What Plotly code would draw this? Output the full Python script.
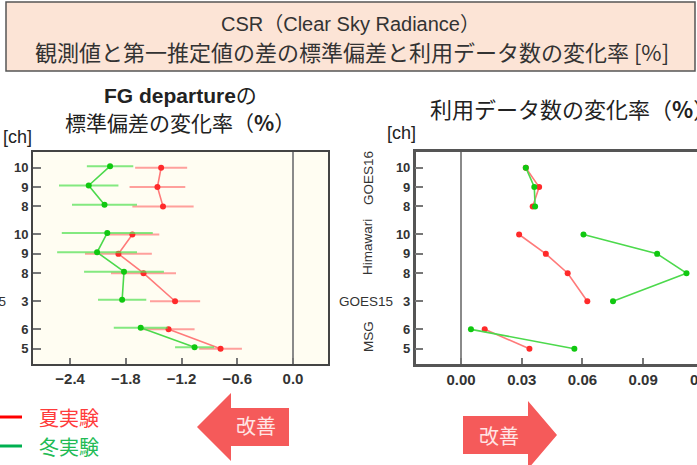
import plotly.graph_objects as go

W, H = 697, 465

# ---------------- data ----------------
satellite = ["GOES16", "GOES16", "GOES16", "Himawari", "Himawari", "Himawari", "GOES15", "MSG", "MSG"]
channel_labels = ["10", "9", "8", "10", "9", "8", "3", "6", "5"]
line_segment = {"GOES16": 0, "Himawari": 1, "GOES15": 1, "MSG": 2}

# FG departure standard deviation change rate (%)
fg_summer = [-1.42, -1.46, -1.40, -1.73, -1.88, -1.61, -1.27, -1.34, -0.78]
fg_summer_err = [0.28, 0.30, 0.33, 0.29, 0.36, 0.35, 0.27, 0.28, 0.23]
fg_winter = [-1.97, -2.20, -2.03, -2.00, -2.11, -1.82, -1.84, -1.64, -1.06]
fg_winter_err = [0.25, 0.32, 0.35, 0.49, 0.43, 0.43, 0.26, 0.29, 0.21]

# change rate of number of used data (%)
n_summer = [0.032, 0.0386, 0.0354, 0.0287, 0.0419, 0.0527, 0.0624, 0.0117, 0.0338]
n_winter = [0.032, 0.0362, 0.0366, 0.0605, 0.0969, 0.1114, 0.0751, 0.0049, 0.0560]

left_ticks = [-2.4, -1.8, -1.2, -0.6, 0.0]
right_ticks = [0.0, 0.03, 0.06, 0.09]

# ---------------- styling ----------------
RED_LINE, RED_MK, RED_ERR = "#FF7A7A", "#FF2A2A", "rgba(255,120,120,0.7)"
GRN_LINE, GRN_MK, GRN_ERR = "#4CD94C", "#10C810", "rgba(90,225,90,0.75)"
GROUP_GAP = 0.45
WINTER_DODGE = 0.08
LATIN = "Liberation Sans, Arial, Noto Sans CJK JP"
CJK = "Noto Sans CJK JP, Liberation Sans"


def px_x(p):
    return p / W


def px_y(p):
    return 1 - p / H


# row positions (groups separated by a gap)
pos = []
cur = 0.0
prev = None
for s in satellite:
    if prev is not None:
        cur -= 1.0 + (GROUP_GAP if s != prev else 0.0)
    pos.append(cur)
    prev = s
pos = [p - pos[-1] for p in pos]


def with_breaks(vals):
    out, prev = [], None
    for v, s in zip(vals, satellite):
        if prev is not None and line_segment[s] != line_segment[prev]:
            out.append(None)
        out.append(v)
        prev = s
    return out


pos_b = with_breaks(pos)
pos_w = [None if p is None else p + WINTER_DODGE for p in pos_b]

fig = go.Figure()

# left panel
fig.add_trace(go.Scatter(
    x=with_breaks(fg_summer), y=pos_b, mode="lines+markers", name="夏実験",
    line=dict(color=RED_LINE, width=1.6), marker=dict(color=RED_MK, size=6),
    error_x=dict(type="data", array=with_breaks(fg_summer_err), color=RED_ERR, thickness=2, width=0),
    xaxis="x", yaxis="y", showlegend=False))
fig.add_trace(go.Scatter(
    x=with_breaks(fg_winter), y=pos_w, mode="lines+markers", name="冬実験",
    line=dict(color=GRN_LINE, width=1.6), marker=dict(color=GRN_MK, size=6),
    error_x=dict(type="data", array=with_breaks(fg_winter_err), color=GRN_ERR, thickness=2, width=0),
    xaxis="x", yaxis="y", showlegend=False))

# right panel
fig.add_trace(go.Scatter(
    x=with_breaks(n_summer), y=pos_b, mode="lines+markers", name="夏実験",
    line=dict(color=RED_LINE, width=1.6), marker=dict(color=RED_MK, size=6),
    xaxis="x2", yaxis="y2", showlegend=False))
fig.add_trace(go.Scatter(
    x=with_breaks(n_winter), y=pos_b, mode="lines+markers", name="冬実験",
    line=dict(color=GRN_LINE, width=1.6), marker=dict(color=GRN_MK, size=6),
    xaxis="x2", yaxis="y2", showlegend=False))

ydom = [px_y(364), px_y(152)]
yrange = [-0.79, 10.16]
tickfont_x = dict(family=LATIN, size=15, color="#333", weight="bold")
tickfont_y = dict(family=LATIN, size=13, color="#333", weight="bold")

common_x = dict(ticks="inside", ticklen=6, tickwidth=1.5, tickcolor="#777",
                showline=True, showgrid=False,
                zeroline=True, zerolinecolor="#8a8a8a", zerolinewidth=1.5,
                tickfont=tickfont_x, fixedrange=True)
common_y = dict(ticks="inside", ticklen=8, tickwidth=1.5, tickcolor="#777",
                showline=True, showgrid=False, zeroline=False,
                tickvals=pos, ticktext=channel_labels, range=yrange,
                tickfont=tickfont_y, fixedrange=True)

fig.update_layout(
    width=W, height=H, margin=dict(l=0, r=0, t=0, b=0),
    paper_bgcolor="white", plot_bgcolor="white",
    xaxis=dict(domain=[px_x(33), px_x(328)], range=[-2.80, 0.377], anchor="y",
               tickvals=left_ticks, tickformat=".1f", mirror=True, linecolor="#444",
               linewidth=2, **common_x),
    yaxis=dict(domain=ydom, anchor="x", mirror=True, linecolor="#444", linewidth=2, **common_y),
    xaxis2=dict(domain=[px_x(415.7), 1.0], range=[-0.0224, 0.1166], anchor="y2",
                tickvals=right_ticks, tickformat=".2f", mirror=True, linecolor="#555",
                linewidth=2.5, **common_x),
    yaxis2=dict(domain=ydom, anchor="x2", mirror=False, linecolor="#555", linewidth=2.5, **common_y),
)

shapes = []
# left panel cream background
shapes.append(dict(type="rect", xref="x domain", yref="y domain", x0=0, x1=1, y0=0, y1=1,
                   fillcolor="#FFFDF2", line=dict(width=0), layer="below"))
# header box
shapes.append(dict(type="rect", xref="paper", yref="paper",
                   x0=px_x(6), x1=px_x(695), y0=px_y(71), y1=px_y(2),
                   fillcolor="#FCE4D6", line=dict(color="#555", width=1.5)))
# legend lines
shapes.append(dict(type="line", xref="paper", yref="paper", x0=0, x1=px_x(22),
                   y0=px_y(417), y1=px_y(417), line=dict(color="#FF0000", width=3)))
shapes.append(dict(type="line", xref="paper", yref="paper", x0=0, x1=px_x(22),
                   y0=px_y(446), y1=px_y(446), line=dict(color="#00B050", width=3)))


def arrow_path(tip, base, tail, cy, hh, bh):
    pts = [(tip, cy), (base, cy - hh), (base, cy - bh), (tail, cy - bh),
           (tail, cy + bh), (base, cy + bh), (base, cy + hh)]
    return "M " + " L ".join(f"{px_x(x):.5f},{px_y(y):.5f}" for x, y in pts) + " Z"


ARROW = "#F55A5A"
shapes.append(dict(type="path", xref="paper", yref="paper",
                   path=arrow_path(197, 231, 289, 427, 34, 19),
                   fillcolor=ARROW, line=dict(width=0)))
shapes.append(dict(type="path", xref="paper", yref="paper",
                   path=arrow_path(557, 528, 463, 435, 34, 19),
                   fillcolor=ARROW, line=dict(width=0)))
fig.update_layout(shapes=shapes)

ann = []


def text(t, x, y, size, color="#222", family=CJK, xanchor="center", angle=0):
    ann.append(dict(text=t, x=px_x(x), y=px_y(y), xref="paper", yref="paper",
                    showarrow=False, xanchor=xanchor, yanchor="middle", textangle=angle,
                    font=dict(family=family, size=size, color=color)))


# header
text("CSR（Clear Sky Radiance）", 351, 24, 20, "#333", LATIN)
text("観測値と第一推定値の差の標準偏差と利用データ数の変化率 [%]", 352, 51, 22, "#333")
# panel titles
text("<b>FG departure</b>の", 180, 96, 21, "#222", LATIN)
text("標準偏差の変化率（<b>%</b>）", 180, 122, 21, "#222")
text("利用データ数の変化率（<b>%</b>）", 428, 108, 22, "#222", CJK, "left")
text("[ch]", 1, 137, 18, "#222", LATIN, "left")
text("[ch]", 385, 133, 18, "#222", LATIN, "left")
# group labels
text("GOES15", 8, 301, 13.5, "#333", LATIN, "right")
text("GOES16", 368, 178, 13.5, "#333", LATIN, "center", -90)
text("Himawari", 368, 247, 13.5, "#333", LATIN, "center", -90)
text("GOES15", 395, 301, 13.5, "#333", LATIN, "right")
text("MSG", 368, 337, 13.5, "#333", LATIN, "center", -90)
# cut-off tick label on right axis
ann.append(dict(text="0.12", x=px_x(704), y=px_y(379), xref="paper", yref="paper",
                showarrow=False, xanchor="center", yanchor="middle",
                font=tickfont_x))
# legend
text("夏実験", 37, 417, 20, "#FF3B3B", CJK, "left")
text("冬実験", 37, 446, 20, "#22BB55", CJK, "left")
# arrows text
text("改善", 256, 425, 20, "#FFE4E4")
text("改善", 499, 435, 20, "#FFE4E4")

fig.update_layout(annotations=ann)

fig.write_html("out.html")
